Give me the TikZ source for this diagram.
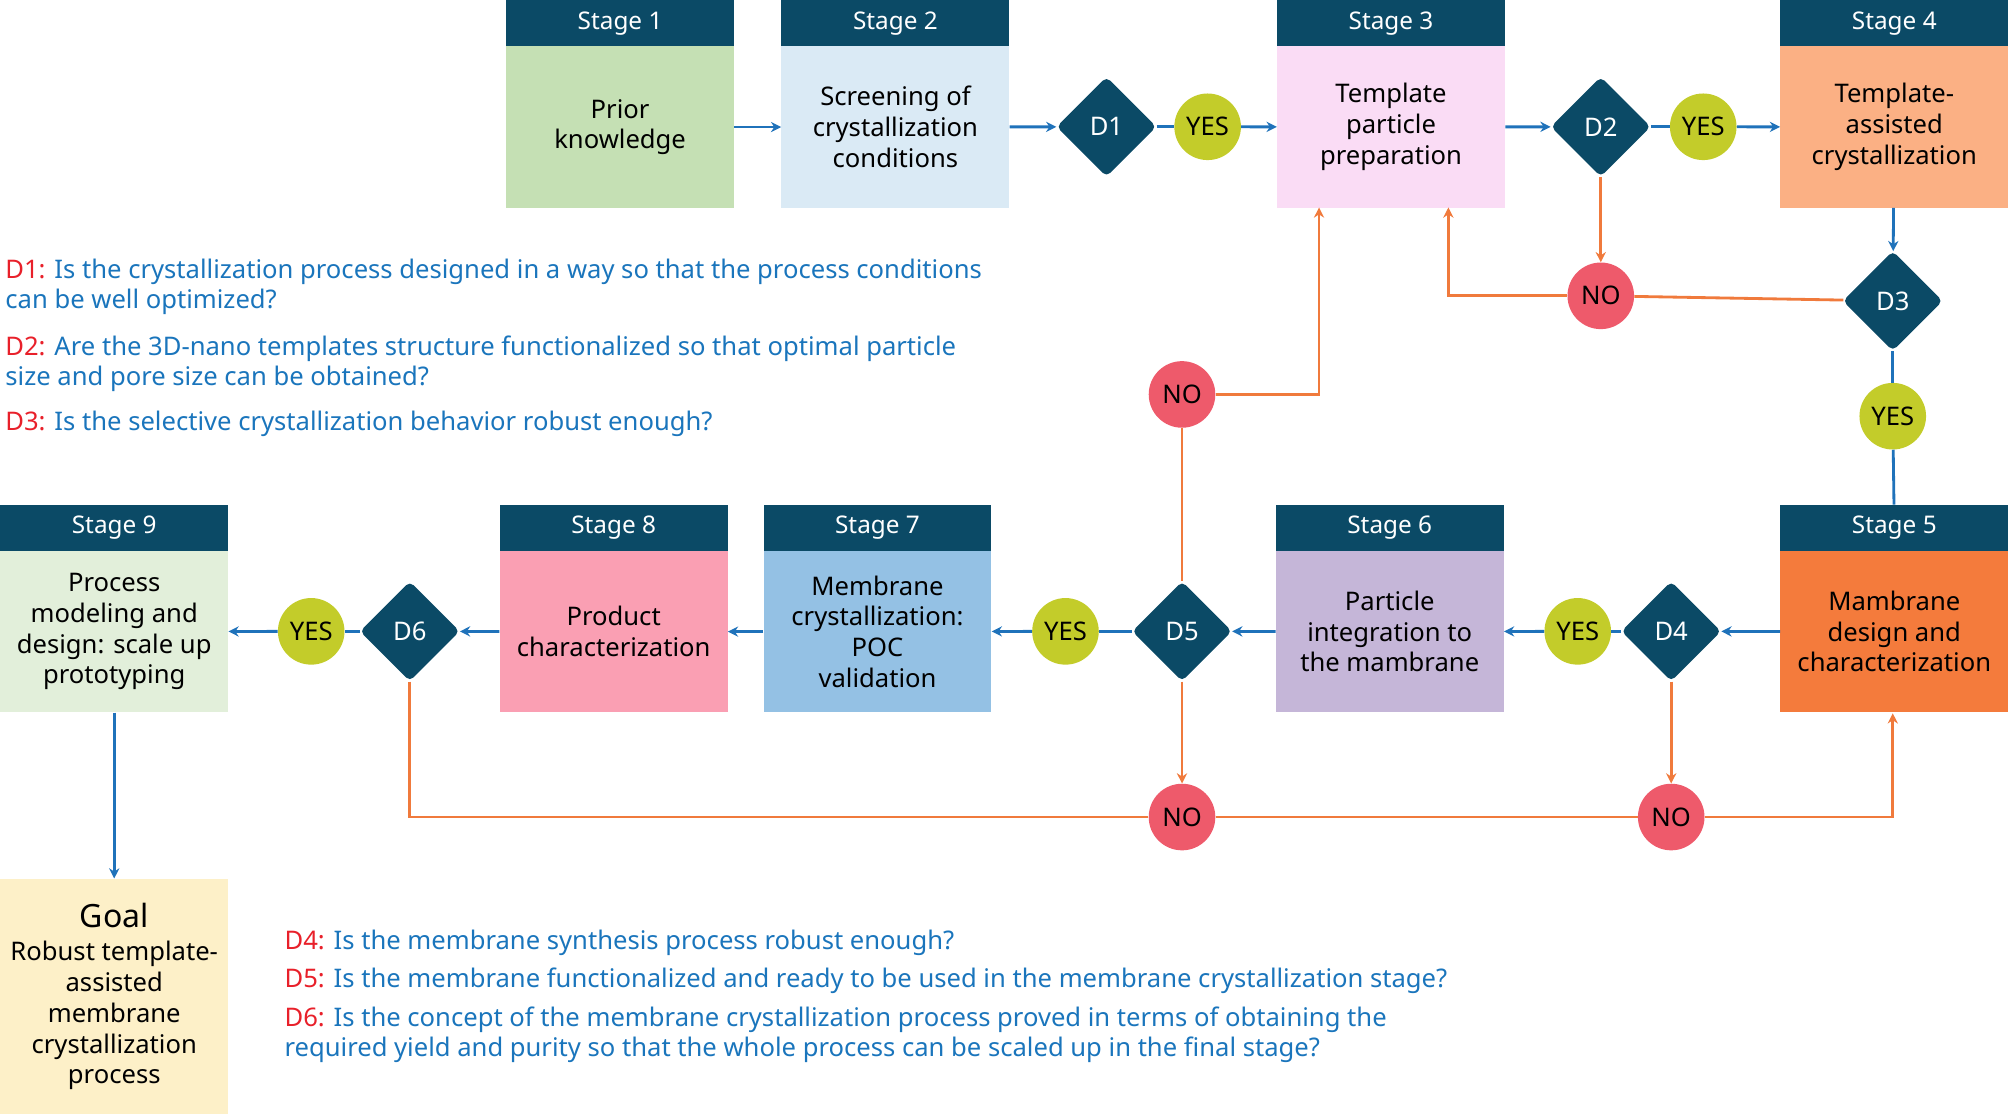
\documentclass[tikz,border=0pt]{standalone}
\usepackage{fontspec}
\setmainfont{Noto Sans}
\usetikzlibrary{shapes.geometric,arrows.meta}
\definecolor{hdr}{HTML}{0B4A66}
\definecolor{cA}{HTML}{C5E0B4}\definecolor{cB}{HTML}{DAEAF5}\definecolor{cC}{HTML}{FADCF5}
\definecolor{cD}{HTML}{FBB084}\definecolor{cE}{HTML}{F47B3C}\definecolor{cF}{HTML}{C5B6D8}
\definecolor{cG}{HTML}{94C1E4}\definecolor{cH}{HTML}{FA9FB3}\definecolor{cI}{HTML}{E2EFDA}
\definecolor{cJ}{HTML}{FDF0C8}\definecolor{yesc}{HTML}{C3CC2A}\definecolor{noc}{HTML}{EE5A6B}
\definecolor{bl}{HTML}{1F72BA}\definecolor{orc}{HTML}{F07A3C}\definecolor{tb}{HTML}{1A75BC}\definecolor{tr}{HTML}{E8202A}
\begin{document}
\begin{tikzpicture}[x=1pt,y=-1pt,
 font=\fontsize{20}{24}\selectfont,
 hd/.style={fill=hdr,text=white,minimum width=178pt,minimum height=36pt,inner sep=0pt,anchor=north west,font=\fontsize{19}{22}\selectfont},
 bd/.style={fill=#1,minimum width=178pt,minimum height=126pt,inner sep=2pt,anchor=north west,align=center},
 dm/.style={diamond,fill=hdr,text=white,minimum width=78pt,minimum height=78pt,inner sep=0pt,rounded corners=4pt},
 yes/.style={circle,fill=yesc,minimum size=52pt,inner sep=0pt},
 no/.style={circle,fill=noc,minimum size=52pt,inner sep=0pt},
 ba/.style={draw=bl,line width=2.2pt,-{Stealth[length=8pt,width=8pt]}},
 bn/.style={draw=bl,line width=2.2pt},
 oa/.style={draw=orc,line width=2.2pt,-{Stealth[length=8pt,width=8pt]}},
 on/.style={draw=orc,line width=2.2pt},
 qt/.style={anchor=west,inner sep=0pt,text=tb,align=left}]
\useasboundingbox (0,0) rectangle (1568,870);
% stages row 1
\node[hd] (h1) at (395,0) {Stage 1};\node[bd=cA] (s1) at (395,36) {Prior\\knowledge};
\node[hd] (h2) at (610,0) {Stage 2};\node[bd=cB] (s2) at (610,36) {Screening of\\crystallization\\conditions};
\node[hd] (h3) at (997,0) {Stage 3};\node[bd=cC] (s3) at (997,36) {Template\\particle\\preparation};
\node[hd] (h4) at (1390,0) {Stage 4};\node[bd=cD] (s4) at (1390,36) {Template-\\assisted\\crystallization};
% row 2
\node[hd] (h9) at (0,394) {Stage 9};\node[bd=cI] (s9) at (0,430) {Process\\modeling and\\design: scale up\\prototyping};
\node[hd] (h8) at (390,394) {Stage 8};\node[bd=cH] (s8) at (390,430) {Product\\characterization};
\node[hd] (h7) at (596,394) {Stage 7};\node[bd=cG] (s7) at (596,430) {Membrane\\crystallization:\\POC\\validation};
\node[hd] (h6) at (996,394) {Stage 6};\node[bd=cF] (s6) at (996,430) {Particle\\integration to\\the mambrane};
\node[hd] (h5) at (1390,394) {Stage 5};\node[bd=cE] (s5) at (1390,430) {Mambrane\\design and\\characterization};
\node[fill=cJ,minimum width=178pt,minimum height=184pt,anchor=north west,inner sep=2pt,align=center] (g) at (0,686) {{\fontsize{25}{30}\selectfont Goal}\\[2pt]Robust template-\\assisted\\membrane\\crystallization\\process};
% decisions
\node[dm] (d1) at (864,99) {D1};\node[dm] (d2) at (1250,99) {D2};\node[dm] (d3) at (1478,235) {D3};
\node[dm] (d4) at (1305,493) {D4};\node[dm] (d5) at (923,493) {D5};\node[dm] (d6) at (320,493) {D6};
\node[yes] (y1) at (943,99) {YES};\node[yes] (y2) at (1330,99) {YES};\node[yes] (y3) at (1478,325) {YES};
\node[yes] (y4) at (1232,493) {YES};\node[yes] (y5) at (832,493) {YES};\node[yes] (y6) at (243,493) {YES};
\node[no] (n2) at (1250,231) {NO};\node[no] (n5) at (923,308) {NO};
\node[no] (n6) at (923,638) {NO};\node[no] (n4) at (1305,638) {NO};
% blue
\draw[ba] (s1) -- (s2);\draw[ba] (s2) -- (d1);\draw[bn] (d1) -- (y1);\draw[ba] (y1) -- (s3);
\draw[ba] (s3) -- (d2);\draw[bn] (d2) -- (y2);\draw[ba] (y2) -- (s4);
\draw[ba] (s4) -- (d3);\draw[bn] (d3) -- (y3);\draw[bn] (y3) -- (h5);
\draw[ba] (s5) -- (d4);\draw[bn] (d4) -- (y4);\draw[ba] (y4) -- (s6);
\draw[ba] (s6) -- (d5);\draw[bn] (d5) -- (y5);\draw[ba] (y5) -- (s7);
\draw[ba] (s7) -- (s8);\draw[ba] (s8) -- (d6);\draw[bn] (d6) -- (y6);\draw[ba] (y6) -- (s9);
\draw[ba] (s9) -- (g);
% orange
\draw[oa] (d2) -- (n2);\draw[oa] (n2) -| (1131,162);\draw[on] (d3) -- (n2);
\draw[on] (d5) -- (n5);\draw[oa] (n5) -| (1030,162);
\draw[oa] (d5) -- (n6);\draw[oa] (d4) -- (n4);
\draw[on] (d6) |- (n6);\draw[on] (n6) -- (n4);\draw[oa] (n4) -| (1478,557);
% questions
\node[qt] (q1) at (4,224) {\textcolor{tr}{D1:} Is the crystallization process designed in a way so that the process conditions\\can be well optimized?};
\node[qt] (q2) at (4,284) {\textcolor{tr}{D2:} Are the 3D-nano templates structure functionalized so that optimal particle\\size and pore size can be obtained?};
\node[qt] (q3) at (4,331) {\textcolor{tr}{D3:} Is the selective crystallization behavior robust enough?};
\node[qt] (q4) at (222,736) {\textcolor{tr}{D4:} Is the membrane synthesis process robust enough?};
\node[qt] (q5) at (222,766) {\textcolor{tr}{D5:} Is the membrane functionalized and ready to be used in the membrane crystallization stage?};
\node[qt] (q6) at (222,808) {\textcolor{tr}{D6:} Is the concept of the membrane crystallization process proved in terms of obtaining the\\required yield and purity so that the whole process can be scaled up in the final stage?};
\end{tikzpicture}
\end{document}
